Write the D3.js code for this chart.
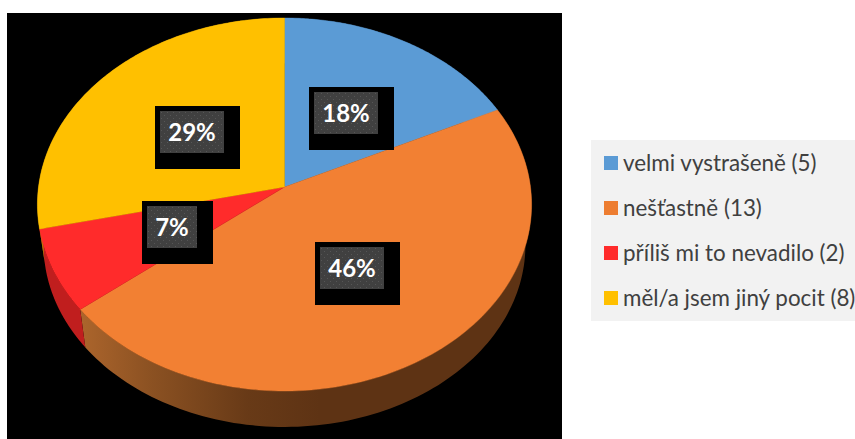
<!DOCTYPE html>
<html><head><meta charset="utf-8">
<script src="https://cdnjs.cloudflare.com/ajax/libs/d3/7.8.5/d3.min.js"></script>
<style>html,body{margin:0;padding:0;background:#fff;overflow:hidden}svg{display:block}</style>
</head><body><svg id="c" width="855" height="439"></svg>
<script>
const categories = ["velmi vystrašeně", "nešťastně", "příliš mi to nevadilo", "měl/a jsem jiný pocit"];
const values = [5, 13, 2, 8];
const topColors = ["#5B9BD5", "#F28033", "#FF2B2B", "#FFC000"];
const wallColors = ["#3c6a94", "url(#wallOrange)", "#C01E1E", "#b08500"];

// layout: the grey label box origin and width for each slice
const labelBoxes = [[314, 92, 64], [320, 247, 64], [147, 206, 50], [160, 111, 64]];

const svg = d3.select("#c");
const defs = svg.append("defs");
const grad = defs.append("linearGradient").attr("id", "wallOrange")
  .attr("gradientUnits", "userSpaceOnUse").attr("x1", 80).attr("x2", 320).attr("y1", 0).attr("y2", 0);
[[0, "#AC652C"], [0.3, "#8B5122"], [0.7, "#683A17"], [1, "#5E3314"]].forEach(s =>
  grad.append("stop").attr("offset", s[0]).attr("stop-color", s[1]));
const pat = defs.append("pattern").attr("id", "dots").attr("patternUnits", "userSpaceOnUse")
  .attr("width", 6).attr("height", 6);
pat.append("rect").attr("width", 6).attr("height", 6).attr("fill", "#404040");
pat.append("rect").attr("x", 1).attr("y", 1).attr("width", 1).attr("height", 1).attr("fill", "#565656");
pat.append("rect").attr("x", 4).attr("y", 4).attr("width", 1).attr("height", 1).attr("fill", "#565656");

svg.append("rect").attr("x", 7).attr("y", 13).attr("width", 555).attr("height", 426).attr("fill", "#000");

// perspective projection of the unit disc
const cx = 284.5, cy = 187, k = 0.0938, A = 184.9, B = 246;
const depthScale = 0.975, depthDy = 41;
function project(angle, r, depth) {
  const u = Math.sin(angle) * r, v = -Math.cos(angle) * r;
  const d = 1 - k * v;
  const s = depth ? depthScale : 1;
  return [cx + s * B * u / d, cy + (depth ? depthDy : 0) + s * A * v / d];
}
const arcs = d3.pie().sort(null)(values);
const line = d3.line();
function arcPts(a, depth) {
  return d3.range(0, 121).map(i => project(a.startAngle + (a.endAngle - a.startAngle) * i / 120, 1, depth));
}
// walls
svg.append("g").selectAll("path").data(arcs).join("path")
  .attr("d", a => line(arcPts(a, false).concat(arcPts(a, true).reverse())) + "Z")
  .attr("fill", (a, i) => wallColors[i]);
// top faces
svg.append("g").selectAll("path").data(arcs).join("path")
  .attr("d", a => line([[cx, cy]].concat(arcPts(a, false))) + "Z")
  .attr("fill", (a, i) => topColors[i])
  .attr("stroke", (a, i) => topColors[i]).attr("stroke-width", 0.4);

// data labels
const total = d3.sum(values);
const lab = svg.append("g").selectAll("g").data(arcs).join("g")
  .attr("transform", (a, i) => `translate(${labelBoxes[i][0]},${labelBoxes[i][1]})`);
lab.append("rect").attr("x", -5).attr("y", -5).attr("width", (a, i) => labelBoxes[i][2] + 21).attr("height", 63).attr("fill", "#000");
lab.append("rect").attr("width", (a, i) => labelBoxes[i][2]).attr("height", 42).attr("fill", "url(#dots)");
lab.append("text").attr("x", (a, i) => labelBoxes[i][2] / 2).attr("y", 30).attr("text-anchor", "middle")
  .attr("font-family", "Lato, sans-serif").attr("font-weight", 700).attr("font-size", 24).attr("fill", "#fff")
  .text(a => Math.round(a.value / total * 100) + "%");

// legend
const lg = svg.append("g");
lg.append("rect").attr("x", 591).attr("y", 140).attr("width", 264).attr("height", 181).attr("fill", "#F2F2F2");
const rowY = d3.scalePoint().domain(categories).range([156, 291]);
const row = lg.selectAll("g").data(categories).join("g").attr("transform", d => `translate(604,${rowY(d)})`);
row.append("rect").attr("width", 14).attr("height", 14).attr("fill", (d, i) => topColors[i].replace("#F28033", "#ED7D31"));
row.append("text").attr("x", 19).attr("y", 14.5).attr("font-family", "Lato, sans-serif").attr("font-size", 22.4)
  .attr("fill", "#404040").text((d, i) => `${d} (${values[i]})`);
</script></body></html>
